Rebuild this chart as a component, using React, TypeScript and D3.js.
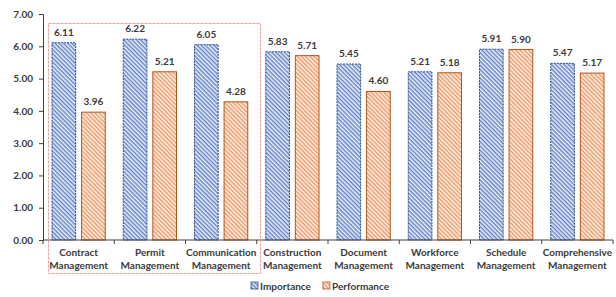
import { useEffect, useRef } from "react";
import * as d3 from "d3";

const CATEGORIES = [
  ["Contract", "Management"],
  ["Permit", "Management"],
  ["Communication", "Management"],
  ["Construction", "Management"],
  ["Document", "Management"],
  ["Workforce", "Management"],
  ["Schedule", "Management"],
  ["Comprehensive", "Management"],
];
const IMPORTANCE = [6.11, 6.22, 6.05, 5.83, 5.45, 5.21, 5.91, 5.47];
const PERFORMANCE = [3.96, 5.21, 4.28, 5.71, 4.6, 5.18, 5.9, 5.17];
const SERIES = ["Importance", "Performance"];
const Y_TICKS = [0, 1, 2, 3, 4, 5, 6, 7];

const FONT = "Lato, 'Open Sans', sans-serif";
const TEXT = "#3a3a3a";

export default function App() {
  const svgRef = useRef<SVGSVGElement>(null);

  useEffect(() => {
    if (!svgRef.current) return;
    const width = 616;
    const height = 297;
    const margin = { left: 43, right: 3, top: 14, bottom: 57 };

    const svg = d3.select(svgRef.current);
    svg.selectAll("*").remove();
    svg.attr("width", width).attr("height", height);

    // hatch patterns
    const defs = svg.append("defs");
    const pats = [
      { id: "hatch-imp", stroke: "#5a7cc6", bg: "#eef2fb" },
      { id: "hatch-perf", stroke: "#ee9460", bg: "#fdf3ec" },
    ];
    pats.forEach((p) => {
      const pat = defs
        .append("pattern")
        .attr("id", p.id)
        .attr("patternUnits", "userSpaceOnUse")
        .attr("width", 3)
        .attr("height", 3)
        .attr("patternTransform", "rotate(45)");
      pat.append("rect").attr("width", 3).attr("height", 3).attr("fill", p.bg);
      pat
        .append("line")
        .attr("x1", 0)
        .attr("y1", 0.75)
        .attr("x2", 3)
        .attr("y2", 0.75)
        .attr("stroke", p.stroke)
        .attr("stroke-width", 1.4);
    });

    const innerW = width - margin.left - margin.right;
    const x = d3
      .scaleBand<number>()
      .domain(d3.range(CATEGORIES.length))
      .range([margin.left, margin.left + innerW]);
    const y = d3.scaleLinear().domain([0, 7]).range([height - margin.bottom, margin.top]);
    const sub = d3.scaleBand<number>().domain([0, 1]).range([9, x.bandwidth() - 9]).paddingInner(0.2);

    const data = [IMPORTANCE, PERFORMANCE];
    const fills = ["url(#hatch-imp)", "url(#hatch-perf)"];
    const strokes = ["#2f4f8f", "#b5561a"];

    const g = svg.append("g");
    data.forEach((vals, si) => {
      g.selectAll(`rect.s${si}`)
        .data(vals)
        .enter()
        .append("rect")
        .attr("x", (_, i) => (x(i) ?? 0) + (sub(si) ?? 0))
        .attr("y", (d) => y(d))
        .attr("width", sub.bandwidth())
        .attr("height", (d) => y(0) - y(d))
        .attr("fill", fills[si])
        .attr("stroke", strokes[si])
        .attr("stroke-width", 1)
        .attr("stroke-dasharray", si === 0 ? "2,1" : null);

      g.selectAll(`text.v${si}`)
        .data(vals)
        .enter()
        .append("text")
        .attr("x", (_, i) => (x(i) ?? 0) + (sub(si) ?? 0) + sub.bandwidth() / 2)
        .attr("y", (d) => y(d) - 7)
        .attr("text-anchor", "middle")
        .style("font-family", FONT)
        .style("font-weight", "bold")
        .style("font-size", "10px")
        .style("fill", TEXT)
        .text((d) => d.toFixed(2));
    });

    // y axis
    const yAxis = svg
      .append("g")
      .attr("transform", `translate(${margin.left},0)`)
      .call(
        d3
          .axisLeft(y)
          .tickValues(Y_TICKS)
          .tickSize(4)
          .tickPadding(6)
          .tickFormat((d) => (d as number).toFixed(2))
      );
    yAxis.select(".domain").attr("stroke", "#404040");
    yAxis.selectAll("line").attr("stroke", "#404040");
    yAxis
      .selectAll("text")
      .style("font-family", FONT)
      .style("font-weight", "bold")
      .style("font-size", "10px")
      .style("fill", TEXT);

    // x axis
    const bounds = d3.range(CATEGORIES.length + 1).map((i) => margin.left + i * x.step());
    const xg = svg.append("g");
    xg.append("line")
      .attr("x1", margin.left)
      .attr("x2", margin.left + innerW)
      .attr("y1", y(0))
      .attr("y2", y(0))
      .attr("stroke", "#404040");
    xg.selectAll("line.tick")
      .data(bounds)
      .enter()
      .append("line")
      .attr("x1", (d) => d)
      .attr("x2", (d) => d)
      .attr("y1", y(0))
      .attr("y2", y(0) + 4)
      .attr("stroke", "#404040");
    CATEGORIES.forEach((lines, i) => {
      const t = xg
        .append("text")
        .attr("text-anchor", "middle")
        .attr("x", (x(i) ?? 0) + x.bandwidth() / 2)
        .attr("y", y(0) + 16)
        .style("font-family", FONT)
        .style("font-weight", "bold")
        .style("font-size", "10px")
        .style("fill", TEXT);
      lines.forEach((l, li) => {
        t.append("tspan")
          .attr("x", (x(i) ?? 0) + x.bandwidth() / 2)
          .attr("dy", li === 0 ? 0 : 12.5)
          .text(l);
      });
    });

    // highlight box
    svg
      .append("rect")
      .attr("x", 48.5)
      .attr("y", 23.5)
      .attr("width", 212)
      .attr("height", 250)
      .attr("fill", "none")
      .attr("stroke", "#f4a0a0")
      .attr("stroke-width", 1)
      .attr("stroke-dasharray", "3,1");

    // legend
    const leg = svg.append("g").attr("transform", "translate(251,282)");
    let lx = 0;
    SERIES.forEach((s, si) => {
      leg
        .append("rect")
        .attr("x", lx)
        .attr("y", 0)
        .attr("width", 7)
        .attr("height", 7)
        .attr("fill", fills[si])
        .attr("stroke", strokes[si])
        .attr("stroke-width", 0.8);
      const t = leg
        .append("text")
        .attr("x", lx + 9)
        .attr("y", 7.5)
        .style("font-family", FONT)
        .style("font-weight", "bold")
        .style("font-size", "10px")
        .style("fill", TEXT)
        .text(s);
      const w = (t.node() as SVGTextElement).getComputedTextLength();
      lx += 9 + w + 12;
    });
  }, []);

  return (
    <div style={{ position: "absolute", left: 0, top: 0, background: "#fff" }}>
      <svg ref={svgRef} style={{ display: "block" }} />
    </div>
  );
}
